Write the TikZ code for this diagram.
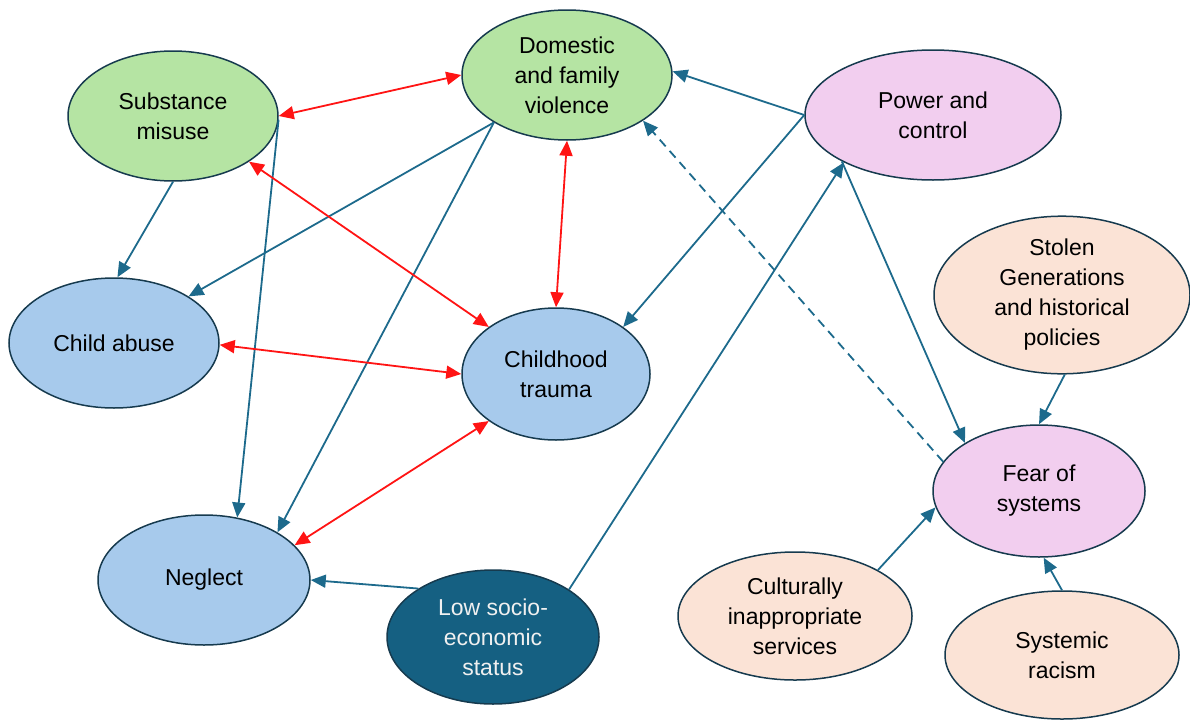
\documentclass[tikz,border=0pt]{standalone}
\usepackage{fontspec}
\setmainfont{Liberation Sans}
\usetikzlibrary{shapes.geometric,arrows.meta}
\definecolor{bordc}{RGB}{22,58,78}
\definecolor{arrc}{RGB}{29,106,140}
\definecolor{redc}{RGB}{255,20,20}
\definecolor{greenf}{RGB}{181,228,163}
\definecolor{bluef}{RGB}{167,202,236}
\definecolor{purplef}{RGB}{242,206,239}
\definecolor{peachf}{RGB}{251,227,214}
\definecolor{tealf}{RGB}{21,96,130}
\begin{document}
\begin{tikzpicture}[x=1pt,y=-1pt,
  el/.style={ellipse, draw=bordc, line width=1.5pt, inner sep=0pt, align=center,
    font=\fontsize{23}{30}\selectfont},
  arr/.style={draw=arrc, line width=1.8pt, -{Triangle[length=15pt,width=13pt]}},
  dconn/.style={draw=redc, line width=1.8pt, {Triangle[length=15pt,width=13pt]}-{Triangle[length=15pt,width=13pt]}}]
\useasboundingbox (0,0) rectangle (1190,720);

\node[el, fill=greenf, minimum width=210pt, minimum height=130pt] (sm) at (173,116) {Substance\\misuse};
\node[el, fill=greenf, minimum width=210pt, minimum height=130pt] (dfv) at (567,75) {Domestic\\and family\\violence};
\node[el, fill=purplef, minimum width=256pt, minimum height=130pt] (pc) at (933,115) {Power and\\control};
\node[el, fill=bluef, minimum width=210pt, minimum height=130pt] (ca) at (114,343) {Child abuse};
\node[el, fill=bluef, minimum width=188pt, minimum height=132pt] (ct) at (556,374) {Childhood\\trauma};
\node[el, fill=peachf, minimum width=256pt, minimum height=130pt] (sg) at (1062,295) {Stolen\\Generations\\and historical\\policies};
\node[el, fill=purplef, minimum width=212pt, minimum height=132pt] (fs) at (1039,491) {Fear of\\systems};
\node[el, fill=bluef, minimum width=212pt, minimum height=130pt] (ng) at (204,580) {Neglect};
\node[el, fill=tealf, text={rgb,255:red,240;green,240;blue,240}, minimum width=212pt, minimum height=134pt] (ls) at (493,637) {Low socio-\\economic\\status};
\node[el, fill=peachf, minimum width=234pt, minimum height=128pt] (ci) at (795,616) {Culturally\\inappropriate\\services};
\node[el, fill=peachf, minimum width=234pt, minimum height=128pt] (sr) at (1062,655) {Systemic\\racism};

% blue connectors
\draw[arr] (sm.-90) -- (ca.87);
\draw[arr] (sm.-2) -- (ng.62);
\draw[arr] (dfv.213) -- (ca.32);
\draw[arr] (dfv.213) -- (ng.33);
\draw[arr] (pc.180) -- (dfv.2);
\draw[arr] (pc.180) -- (ct.35);
\draw[arr] (pc.207) -- (fs.147);
\draw[arr, dash pattern=on 9pt off 6pt] (fs.163) -- (dfv.-31);
\draw[arr] (ls.32) -- (pc.208);
\draw[arr] (ls.147) -- (ng.0);
\draw[arr] (sg.-88) -- (fs.90);
\draw[arr] (ci.29.5) -- (fs.189);
\draw[arr] (sr.90) -- (fs.-86.5);

% red double connectors
\draw[dconn] (sm.0) -- (dfv.180);
\draw[dconn] (sm.-31) -- (ct.145);
\draw[dconn] (dfv.-90) -- (ct.90);
\draw[dconn] (ca.-1) -- (ct.180);
\draw[dconn] (ct.215) -- (ng.21);
\end{tikzpicture}
\end{document}
